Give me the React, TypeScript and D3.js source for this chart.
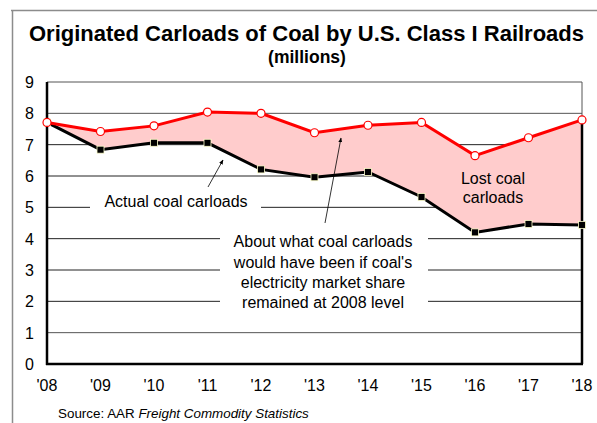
import React from "react";
import * as d3 from "d3";

const years = ["'08", "'09", "'10", "'11", "'12", "'13", "'14", "'15", "'16", "'17", "'18"];
const potential = [7.71, 7.42, 7.6, 8.04, 8.0, 7.38, 7.62, 7.71, 6.65, 7.22, 7.79];
const actual = [7.71, 6.84, 7.06, 7.06, 6.21, 5.96, 6.13, 5.33, 4.2, 4.47, 4.44];
const yTicks = [0, 1, 2, 3, 4, 5, 6, 7, 8, 9];

const W = 597, H = 423;
const L = 47, R = 582, T = 82, B = 364;
const FONT = "Liberation Sans, Arial, sans-serif";

export default function App() {
  const x = d3.scalePoint<string>().domain(years).range([L, R]);
  const y = d3.scaleLinear().domain([0, 9]).range([B, T]);
  const idx = years.map((_, i) => i);
  const area = d3.area<number>()
    .x(i => x(years[i])!)
    .y0(i => y(actual[i]))
    .y1(i => y(potential[i]));
  const lineP = d3.line<number>().x(i => x(years[i])!).y(i => y(potential[i]));
  const lineA = d3.line<number>().x(i => x(years[i])!).y(i => y(actual[i]));
  const last = years.length - 1;

  return (
    <svg width={W} height={H} style={{ position: "absolute", left: 0, top: 0, background: "#fff" }} fontFamily={FONT}>
      <defs>
        <marker id="arr" viewBox="0 0 10 10" refX="9" refY="5" markerWidth="6" markerHeight="6" orient="auto">
          <path d="M0,1 L10,5 L0,9 z" fill="#000" />
        </marker>
      </defs>
      {/* outer frame */}
      <line x1={11} x2={597} y1={10.5} y2={10.5} stroke="#8c8c8c" strokeWidth={1.5} />
      <line x1={12.5} x2={12.5} y1={10} y2={423} stroke="#8c8c8c" strokeWidth={1.5} />

      <text x={306.5} y={41} textAnchor="middle" fontWeight="bold" fontSize={22}>Originated Carloads of Coal by U.S. Class I Railroads</text>
      <text x={307} y={63} textAnchor="middle" fontWeight="bold" fontSize={17.5}>(millions)</text>

      {/* gridlines */}
      {yTicks.filter(t => t > 0).map(t => (
        <line key={t} x1={L} x2={R} y1={y(t)} y2={y(t)} stroke={t === 1 || t === 8 || t === 9 ? "#555" : "#222"} strokeWidth={1} />
      ))}
      <line x1={R} x2={R} y1={T} y2={B} stroke="#555" strokeWidth={1} />

      {/* area between */}
      <path d={area(idx)!} fill="#ffcccc" />
      <line x1={R} x2={R} y1={y(potential[last])} y2={B} stroke="#000" strokeWidth={2.5} />

      {/* annotation boxes */}
      <rect x={90} y={196} width={171} height={20} fill="#fff" />
      <rect x={220} y={228} width={208} height={84} fill="#fff" />

      {/* axes */}
      <line x1={L} x2={L} y1={T} y2={B + 1} stroke="#000" strokeWidth={2.5} />
      <line x1={L - 1} x2={R + 1} y1={B} y2={B} stroke="#000" strokeWidth={2.5} />

      <path d={lineA(idx)!} fill="none" stroke="#000" strokeWidth={3} />
      <path d={lineP(idx)!} fill="none" stroke="#ff0000" strokeWidth={3} />
      {idx.map(i => (
        <rect key={"a" + i} x={x(years[i])! - 3.5} y={y(actual[i]) - 3.5} width={7} height={7} fill="#000" stroke="#ffffcc" strokeWidth={0.8} />
      ))}
      {idx.map(i => (
        <circle key={"p" + i} cx={x(years[i])!} cy={y(potential[i])} r={4} fill="#fff" stroke="#ff0000" strokeWidth={1.2} />
      ))}

      {/* tick labels */}
      {yTicks.map(t => (
        <text key={t} x={34} y={y(t) + 6} textAnchor="end" fontSize={16}>{t}</text>
      ))}
      {years.map(yr => (
        <text key={yr} x={x(yr)!} y={391} textAnchor="middle" fontSize={16}>{yr}</text>
      ))}

      {/* annotations */}
      <text x={176} y={207} textAnchor="middle" fontSize={16}>Actual coal carloads</text>
      <line x1={208} y1={187} x2={223} y2={160} stroke="#000" strokeWidth={0.8} markerEnd="url(#arr)" />
      <g fontSize={16} textAnchor="middle">
        <text x={323} y={247}>About what coal carloads</text>
        <text x={323} y={268}>would have been if coal's</text>
        <text x={323} y={288}>electricity market share</text>
        <text x={323} y={308}>remained at 2008 level</text>
      </g>
      <line x1={325} y1={223} x2={341} y2={138} stroke="#000" strokeWidth={0.8} markerEnd="url(#arr)" />
      <g fontSize={16} textAnchor="middle">
        <text x={493} y={184}>Lost coal</text>
        <text x={493} y={203}>carloads</text>
      </g>

      <text x={58} y={418} fontSize={13.4}>
        Source: AAR <tspan fontStyle="italic">Freight Commodity Statistics</tspan>
      </text>
    </svg>
  );
}
